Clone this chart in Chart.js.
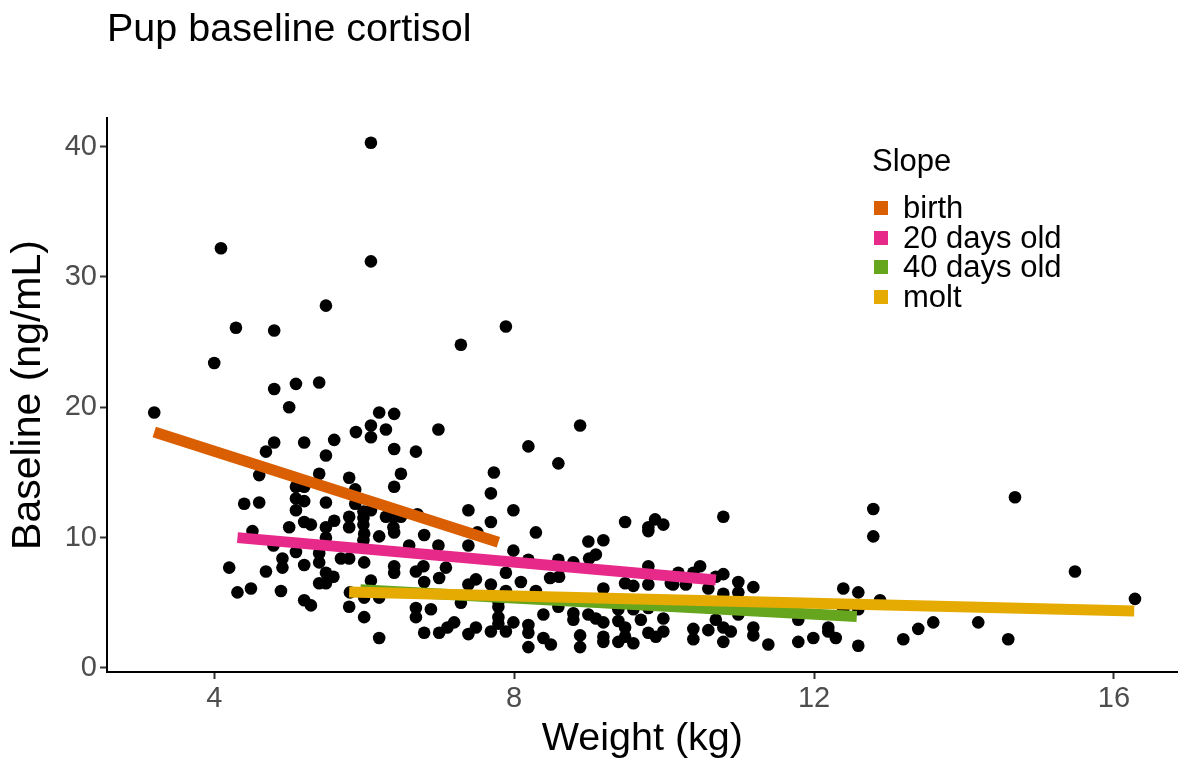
<!DOCTYPE html>
<html><head><meta charset="utf-8">
<script src="https://cdn.jsdelivr.net/npm/chart.js@4.4.1/dist/chart.umd.min.js"></script>
<style>html,body{margin:0;padding:0;background:#fff;}#wrap{width:1184px;height:761px;position:relative;}</style>
</head><body><div id="wrap"><canvas id="c" width="1184" height="761"></canvas></div>
<script>
// ---- data ----
const weightKg = [6.09,4.09,6.09,5.49,4.29,4.80,7.89,7.29,4.00,3.20,4.80,5.09,5.40,5.00,6.20,6.40,6.09,6.29,5.89,6.09,
6.99,8.88,4.80,5.20,5.60,4.69,5.49,6.40,6.69,8.19,8.59,4.60,5.40,5.80,6.49,7.73,5.09,5.20,5.88,6.40,
7.69,4.40,4.60,5.09,5.20,5.49,5.88,5.09,5.99,6.09,5.80,5.99,6.29,6.40,6.71,7.39,7.99,5.20,5.29,5.60,
5.49,5.80,5.00,4.51,5.99,6.39,6.49,7.69,9.48,9.79,9.88,9.99,9.79,10.79,12.79,12.79,14.68,6.00,6.20,6.40,
6.80,8.29,7.51,5.49,5.99,4.79,6.60,6.99,7.39,7.99,8.99,9.19,5.09,5.40,9.09,9.00,8.59,8.19,8.79,9.79,
4.91,4.91,4.20,4.69,5.20,5.40,5.69,5.80,6.00,6.40,6.40,6.69,6.79,7.09,5.49,5.59,5.40,5.49,6.09,6.80,
7.00,7.39,7.49,7.69,7.89,7.89,8.09,8.29,8.48,8.60,9.19,9.48,9.59,9.79,10.12,10.19,10.29,10.39,10.48,10.69,
10.79,10.59,10.99,11.19,10.79,10.99,12.39,12.59,12.88,12.39,12.59,4.31,4.49,4.89,5.20,5.29,5.81,6.00,6.20,5.80,
6.00,6.20,7.29,6.69,6.69,6.89,6.80,7.00,7.11,7.20,7.39,7.49,7.69,7.79,7.79,7.79,7.89,7.99,8.19,8.19,
8.19,8.39,8.39,8.49,8.59,8.79,8.79,8.88,8.88,8.99,9.09,9.19,9.19,9.19,9.39,9.39,9.48,9.48,9.59,9.69,
9.79,9.89,9.99,9.99,10.39,10.39,10.59,10.69,10.79,10.89,10.79,10.99,11.19,11.19,11.39,11.79,11.79,11.99,12.19,12.19,
12.29,12.59,13.19,13.39,13.59,14.19,14.59,15.48,16.28,9.79,9.59,9.39,7.79,10.09];
const baselineNgMl = [40.3,32.2,31.2,27.8,26.1,25.9,26.2,24.8,23.4,19.6,21.4,21.8,21.9,20.0,19.6,19.5,18.6,18.3,18.1,17.7,
18.3,18.6,17.3,17.3,17.5,16.6,16.3,16.8,16.6,17.0,15.7,14.8,14.9,14.6,14.9,15.0,13.9,13.9,13.7,13.9,
13.4,12.6,12.7,13.0,12.8,12.7,12.6,12.1,12.0,12.1,11.6,11.5,11.6,11.6,11.8,12.1,12.1,11.2,11.0,11.3,
10.8,10.8,10.8,10.5,11.0,10.8,11.6,11.2,11.2,10.8,11.4,11.0,10.5,11.6,12.2,10.1,13.1,10.3,10.1,10.4,
10.2,10.4,10.4,10.0,9.8,9.4,9.4,9.4,9.4,9.0,9.7,9.8,8.9,8.8,8.7,8.4,8.3,8.3,8.1,7.8,
8.4,7.7,7.7,7.4,7.9,8.1,8.4,8.4,8.1,7.8,7.3,7.4,7.8,7.7,7.3,7.0,6.5,6.5,6.7,6.6,
6.9,6.4,6.8,6.4,7.3,5.9,6.6,5.9,6.9,7.0,6.1,6.5,6.3,6.4,6.4,7.3,6.4,7.3,7.8,7.0,
7.2,6.1,6.6,6.2,5.7,5.8,6.1,5.8,5.2,4.5,4.5,5.8,6.1,5.9,5.2,4.8,5.8,5.4,5.4,4.7,
3.9,2.3,5.0,4.6,3.9,4.5,2.7,2.7,3.1,3.5,2.6,3.1,2.8,4.7,3.9,3.4,2.8,3.5,3.3,2.7,
1.6,4.1,2.3,1.8,4.7,4.2,3.7,2.5,1.6,4.1,3.8,3.5,2.4,2.0,3.6,2.0,3.1,2.4,1.9,3.7,
2.7,2.4,2.8,3.8,3.0,2.2,2.9,3.7,3.1,2.8,2.0,4.1,3.1,2.5,1.8,3.7,2.0,2.3,3.1,2.8,
2.3,1.7,2.2,3.0,3.5,3.5,2.2,7.4,5.3,4.6,4.5,4.5,5.1,6.5];
const slopeLabels = ['birth', '20 days old', '40 days old', 'molt'];
const slopeStartX = [3.20, 4.31, 5.95, 5.80];
const slopeStartY = [18.1, 10.0, 6.0, 5.83];
const slopeEndX   = [7.79, 10.69, 12.57, 16.27];
const slopeEndY   = [9.65, 6.75, 3.95, 4.37];
const xTickValues = [4, 8, 12, 16];
const yTickValues = [0, 10, 20, 30, 40];

// ---- styles ----
const slopeColors = ['#D95F02', '#E7298A', '#66A61E', '#E6AB02'];
const FONT = '"Liberation Sans", Arial, Helvetica, sans-serif';

const pointData = weightKg.map((w, i) => ({x: w, y: baselineNgMl[i]}));
const slopeSets = slopeLabels.map((lab, i) => ({
  label: lab,
  legendIndex: i,
  isSlope: true,
  data: [{x: slopeStartX[i], y: slopeStartY[i]}, {x: slopeEndX[i], y: slopeEndY[i]}],
  showLine: true,
  borderColor: slopeColors[i],
  backgroundColor: slopeColors[i],
  borderWidth: 11,
  borderCapStyle: 'butt',
  pointRadius: 0,
  pointHoverRadius: 0,
  fill: false
}));
const datasets = [slopeSets[3], slopeSets[2], slopeSets[1], slopeSets[0], {
  label: 'points',
  data: pointData,
  pointRadius: 6.3,
  pointBackgroundColor: '#000',
  pointBorderWidth: 0,
  showLine: false
}];

const decorPlugin = {
  id: 'decor',
  afterDraw(chart) {
    const ctx = chart.ctx;
    ctx.save();
    ctx.fillStyle = '#000';
    ctx.textAlign = 'left';
    ctx.textBaseline = 'alphabetic';
    ctx.font = '39.5px ' + FONT;
    ctx.fillText('Pup baseline cortisol', 107, 41);
    ctx.textBaseline = 'middle';
    ctx.font = '31px ' + FONT;
    ctx.fillText('Slope', 872, 162);
    const items = chart.data.datasets.filter(d => d.isSlope).sort((a, b) => a.legendIndex - b.legendIndex);
    const ys = [208, 238, 267, 297];
    items.forEach((d, k) => {
      ctx.fillStyle = d.borderColor;
      ctx.fillRect(874, ys[k] - 7, 14, 14);
      ctx.fillStyle = '#000';
      ctx.fillText(d.label, 903, ys[k] + 1);
    });
    ctx.restore();
  }
};

new Chart(document.getElementById('c'), {
  type: 'scatter',
  data: {datasets},
  options: {
    responsive: false,
    animation: false,
    devicePixelRatio: 1,
    layout: {padding: {left: 0, right: 5, top: 118, bottom: 0}},
    plugins: {legend: {display: false}, tooltip: {enabled: false}, title: {display: false}},
    scales: {
      x: {
        type: 'linear', min: 2.57, max: 16.85,
        afterBuildTicks: s => { s.ticks = xTickValues.map(v => ({value: v})); },
        afterFit: s => { s.height = 89; },
        border: {display: true, color: '#000', width: 2},
        grid: {display: true, drawOnChartArea: false, drawTicks: true, tickLength: 7, tickColor: '#333', tickWidth: 2},
        ticks: {color: '#4D4D4D', font: {family: FONT, size: 29}, padding: 3, maxRotation: 0},
        title: {display: true, text: 'Weight (kg)', color: '#000', font: {family: FONT, size: 39.5, lineHeight: 1}, padding: {top: 0, bottom: 2}}
      },
      y: {
        type: 'linear', min: -0.31, max: 42.2,
        afterBuildTicks: s => { s.ticks = yTickValues.map(v => ({value: v})); },
        afterFit: s => { s.width = 107; },
        border: {display: true, color: '#000', width: 2},
        grid: {display: true, drawOnChartArea: false, drawTicks: true, tickLength: 7, tickColor: '#333', tickWidth: 2},
        ticks: {color: '#4D4D4D', font: {family: FONT, size: 29}, padding: 3},
        title: {display: true, text: 'Baseline (ng/mL)', color: '#000', font: {family: FONT, size: 41, lineHeight: 1}, padding: {top: 8, bottom: 0}}
      }
    }
  },
  plugins: [decorPlugin]
});
</script></body></html>
